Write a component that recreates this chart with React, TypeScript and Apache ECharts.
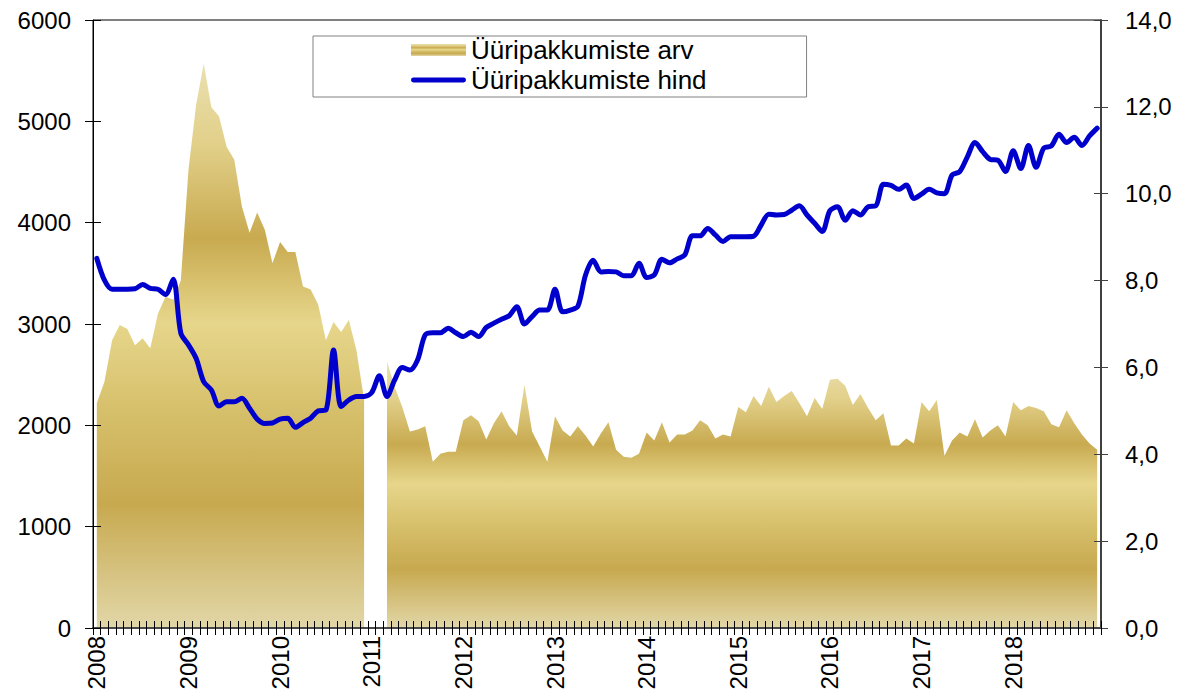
import { useEffect, useRef } from 'react';
import * as echarts from 'echarts';

const years = ['2008', '2009', '2010', '2011', '2012', '2013', '2014', '2015', '2016', '2017', '2018'];
const monthNumbers = ['01', '02', '03', '04', '05', '06', '07', '08', '09', '10', '11', '12'];
const categories: string[] = years.flatMap((y) => monthNumbers.map((m) => `${y}-${m}`));

// Üüripakkumiste arv (number of rental offers), monthly
const offerCount: (number | null)[] = [
  2220, 2430, 2840, 2990, 2950, 2790, 2860, 2760, 3100, 3270, 3240, 3430,
  4520, 5160, 5570, 5140, 5050, 4750, 4620, 4160, 3900, 4100, 3930, 3600,
  3810, 3710, 3710, 3370, 3340, 3190, 2840, 3020, 2920, 3040, 2740, 2250,
  null, null, 2630, 2380, 2180, 1940, 1960, 1990, 1640, 1720, 1740, 1740,
  2050, 2100, 2040, 1860, 2020, 2140, 1990, 1900, 2400, 1940, 1790, 1640,
  2090, 1950, 1890, 1990, 1900, 1790, 1920, 2030, 1760, 1690, 1680, 1720,
  1930, 1850, 2030, 1830, 1910, 1910, 1950, 2050, 2000, 1870, 1910, 1890,
  2180, 2130, 2290, 2190, 2380, 2230, 2290, 2340, 2220, 2090, 2270, 2160,
  2450, 2460, 2390, 2200, 2310, 2170, 2050, 2120, 1800, 1800, 1870, 1820,
  2230, 2140, 2250, 1700, 1850, 1930, 1890, 2060, 1880, 1950, 2000, 1890,
  2230, 2150, 2190, 2170, 2140, 2010, 1980, 2150, 2020, 1910, 1820, 1760,
];

// Üüripakkumiste hind (offer price), monthly
const offerPrice: number[] = [
  8.51, 8.01, 7.80, 7.80, 7.80, 7.81, 7.91, 7.82, 7.80, 7.68, 8.03, 6.79,
  6.52, 6.21, 5.67, 5.48, 5.11, 5.21, 5.21, 5.29, 5.06, 4.81, 4.71, 4.72,
  4.81, 4.83, 4.62, 4.73, 4.83, 5.00, 5.02, 6.40, 5.10, 5.25, 5.33, 5.33,
  5.42, 5.81, 5.33, 5.71, 6.00, 5.94, 6.17, 6.75, 6.80, 6.80, 6.90, 6.80,
  6.71, 6.81, 6.71, 6.92, 7.02, 7.11, 7.19, 7.40, 7.00, 7.17, 7.32, 7.32,
  7.80, 7.28, 7.32, 7.41, 8.13, 8.47, 8.20, 8.21, 8.20, 8.11, 8.11, 8.40,
  8.07, 8.13, 8.49, 8.41, 8.50, 8.59, 9.03, 9.03, 9.20, 9.05, 8.90, 9.01,
  9.01, 9.01, 9.02, 9.28, 9.53, 9.51, 9.52, 9.62, 9.72, 9.51, 9.32, 9.13,
  9.61, 9.70, 9.39, 9.61, 9.51, 9.70, 9.72, 10.22, 10.19, 10.10, 10.20, 9.89,
  9.99, 10.10, 10.02, 10.00, 10.43, 10.51, 10.85, 11.18, 10.97, 10.79, 10.77, 10.51,
  10.99, 10.58, 11.11, 10.61, 11.05, 11.10, 11.37, 11.18, 11.30, 11.11, 11.33, 11.51,
];

const leftTicks = { min: 0, max: 6000, interval: 1000 };
const rightTicks = { min: 0, max: 14, interval: 2 };

const NAME_COUNT = 'Üüripakkumiste arv';
const NAME_PRICE = 'Üüripakkumiste hind';
const FONT = '"Liberation Sans", Arial, sans-serif';

// split a series with gaps into contiguous runs (each run gets its own fill box)
function splitRuns(values: (number | null)[]): (number | null)[][] {
  const runs: (number | null)[][] = [];
  let current: (number | null)[] | null = null;
  values.forEach((v, i) => {
    if (v === null) {
      current = null;
      return;
    }
    if (!current) {
      current = values.map(() => null);
      runs.push(current);
    }
    current[i] = v;
  });
  return runs;
}

function goldGradient() {
  return new echarts.graphic.LinearGradient(0, 0, 0, 1, [
    { offset: 0, color: '#EAE0B0' },
    { offset: 0.14, color: '#E2D08A' },
    { offset: 0.31, color: '#C8AA50' },
    { offset: 0.46, color: '#E6D68B' },
    { offset: 0.62, color: '#D6BF6A' },
    { offset: 0.78, color: '#C7A94F' },
    { offset: 1, color: '#E2D7A8' },
  ]);
}

export default function App() {
  const ref = useRef<HTMLDivElement>(null);

  useEffect(() => {
    if (!ref.current) return;
    const chart = echarts.init(ref.current, undefined, { renderer: 'svg' });

    const areaSeries = splitRuns(offerCount).map((run) => ({
      name: NAME_COUNT,
      type: 'line',
      xAxisIndex: 0,
      yAxisIndex: 0,
      data: run,
      symbol: 'none',
      connectNulls: false,
      lineStyle: { width: 0, opacity: 0 },
      itemStyle: { color: '#C8AA50' },
      areaStyle: { color: goldGradient(), opacity: 1 },
      z: 1,
    }));

    const axisLabelStyle = { fontSize: 24, color: '#000', fontFamily: FONT };

    chart.setOption({
      animation: false,
      backgroundColor: '#fff',
      grid: {
        left: 93,
        right: 83,
        top: 20,
        bottom: 70,
        show: true,
        borderColor: '#000',
        borderWidth: 1,
        backgroundColor: 'transparent',
      },
      legend: {
        orient: 'vertical',
        left: 313,
        top: 36,
        padding: [1, 100, 4, 98],
        itemGap: 4,
        itemWidth: 55,
        itemHeight: 12,
        backgroundColor: '#fff',
        borderColor: '#808080',
        borderWidth: 1,
        borderRadius: 0,
        textStyle: { fontSize: 26, color: '#000', fontFamily: FONT },
        data: [
          { name: NAME_COUNT, icon: 'rect', itemStyle: { color: goldGradient() } },
          {
            name: NAME_PRICE,
            icon: 'path://M2,0 L53,0 A2.5,2.5 0 0 1 53,5 L2,5 A2.5,2.5 0 0 1 2,0 Z',
            itemStyle: { color: '#0000CC' },
          },
        ],
      },
      xAxis: [
        {
          type: 'category',
          data: categories,
          boundaryGap: true,
          position: 'bottom',
          z: 10,
          axisLine: { show: true, lineStyle: { color: '#4a4a4a', width: 2 } },
          axisTick: { show: true, interval: 0, length: 7, lineStyle: { color: '#000', width: 1 } },
          axisLabel: {
            ...axisLabelStyle,
            interval: 11,
            rotate: 90,
            margin: 8,
            formatter: (v: string) => v.slice(0, 4),
          },
          splitLine: { show: false },
        },
        {
          type: 'category',
          data: categories,
          boundaryGap: true,
          position: 'bottom',
          z: 10,
          axisLine: { show: false },
          axisTick: { show: true, inside: true, interval: 0, length: 7, lineStyle: { color: '#000', width: 1 } },
          axisLabel: { show: false },
          splitLine: { show: false },
        },
      ],
      yAxis: [
        {
          type: 'value',
          position: 'left',
          ...leftTicks,
          z: 10,
          axisLine: { show: true, lineStyle: { color: '#000', width: 1 } },
          axisTick: { show: true, length: 8, lineStyle: { color: '#000' } },
          axisLabel: { ...axisLabelStyle, margin: 22, formatter: (v: number) => String(v) },
          splitLine: { show: false },
        },
        {
          type: 'value',
          position: 'right',
          ...rightTicks,
          z: 10,
          axisLine: { show: true, lineStyle: { color: '#404040', width: 2 } },
          axisTick: { show: true, length: 7, lineStyle: { color: '#404040' } },
          axisLabel: {
            ...axisLabelStyle,
            margin: 24,
            formatter: (v: number) => v.toFixed(1).replace('.', ','),
          },
          splitLine: { show: false },
        },
        {
          type: 'value',
          position: 'left',
          ...leftTicks,
          z: 10,
          axisLine: { show: false },
          axisTick: { show: true, inside: true, length: 8, lineStyle: { color: '#000' } },
          axisLabel: { show: false },
          splitLine: { show: false },
        },
        {
          type: 'value',
          position: 'right',
          ...rightTicks,
          z: 10,
          axisLine: { show: false },
          axisTick: { show: true, inside: true, length: 7, lineStyle: { color: '#404040' } },
          axisLabel: { show: false },
          splitLine: { show: false },
        },
      ],
      series: [
        ...areaSeries,
        {
          name: NAME_PRICE,
          type: 'line',
          xAxisIndex: 0,
          yAxisIndex: 1,
          data: offerPrice,
          symbol: 'none',
          smooth: 0.3,
          lineStyle: { color: '#0000CC', width: 5, cap: 'round', join: 'round' },
          itemStyle: { color: '#0000CC' },
          z: 3,
        },
      ],
    });

    return () => chart.dispose();
  }, []);

  return (
    <div
      ref={ref}
      style={{ position: 'absolute', left: 0, top: 0, width: 1184, height: 698 }}
    />
  );
}
